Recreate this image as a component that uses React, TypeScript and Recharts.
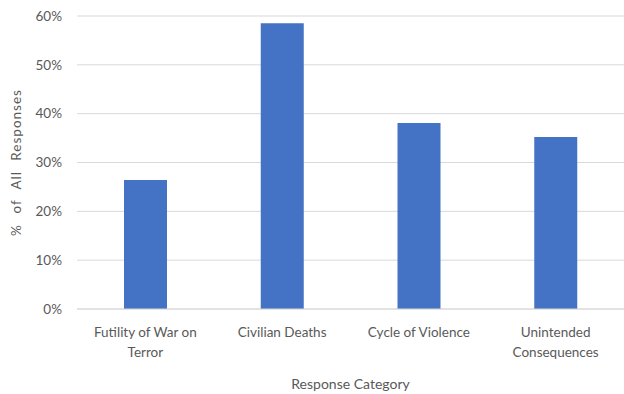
import { BarChart, Bar, XAxis, YAxis, CartesianGrid } from 'recharts'

const categories = ['Futility of War on\nTerror', 'Civilian Deaths', 'Cycle of Violence', 'Unintended\nConsequences']
const shares = [26.4, 58.5, 38.1, 35.2]
const yTicks = [0, 10, 20, 30, 40, 50, 60]

const data = categories.map((name, i) => ({ name, value: shares[i] }))

const FONT = 'Lato, "Open Sans", sans-serif'
const TEXT = '#595959'

// Category labels are split on newlines and stacked
function CategoryTick({ x, y, payload }: any) {
  const lines = String(payload.value).split('\n')
  return (
    <text x={x} y={y} textAnchor="middle" fill={TEXT} fontFamily={FONT} fontSize={13.5}>
      {lines.map((line, i) => (
        <tspan key={i} x={x} dy={i === 0 ? 20 : 20}>{line}</tspan>
      ))}
    </text>
  )
}

export default function App() {
  return (
    <div style={{ position: 'absolute', left: 0, top: 0, width: 624, height: 394, background: '#fff' }}>
      <BarChart width={624} height={394} data={data} margin={{ top: 16, right: 0, bottom: 0, left: 0 }}>
        <CartesianGrid vertical={false} stroke="#d9d9d9" strokeWidth={1} />
        <XAxis
          dataKey="name"
          axisLine={{ stroke: '#d9d9d9' }}
          tickLine={false}
          interval={0}
          height={85}
          tick={<CategoryTick />}
          label={{
            value: 'Response Category',
            position: 'insideBottom',
            offset: 5,
            fill: TEXT,
            fontFamily: FONT,
            fontSize: 14,
          }}
        />
        <YAxis
          width={77}
          domain={[0, 60]}
          ticks={yTicks}
          axisLine={false}
          tickLine={false}
          tickMargin={9}
          tickFormatter={(v: number) => `${v}%`}
          tick={{ fill: TEXT, fontFamily: FONT, fontSize: 13.5 }}
          label={{
            value: '% of All Responses',
            angle: -90,
            position: 'insideLeft',
            offset: 16,
            style: { textAnchor: 'middle', letterSpacing: 1, wordSpacing: 6 },
            fill: TEXT,
            fontFamily: FONT,
            fontSize: 13.5,
          }}
        />
        <Bar dataKey="value" fill="#4472c4" barSize={43} isAnimationActive={false} />
      </BarChart>
    </div>
  )
}
